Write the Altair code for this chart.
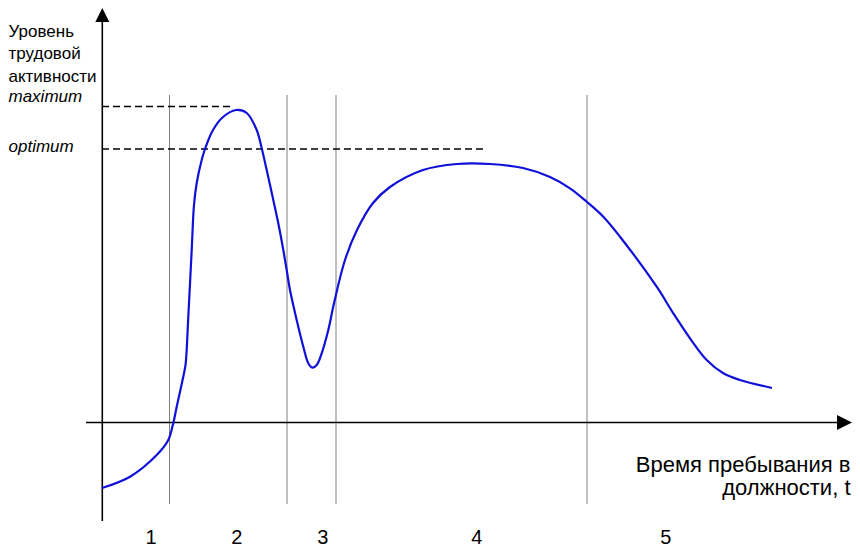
import altair as alt
import pandas as pd

# ---- data (t = time units, level = activity units) ----
curve_t = [0.0, 2.8, 5.47, 6.63, 7.13, 7.47, 8.2, 8.37, 8.63, 8.97, 9.2, 9.47, 9.97, 10.3,
           11.1, 12.1, 13.4, 14.47, 15.47, 15.97, 16.47, 17.13, 17.63, 18.13, 18.47, 18.8,
           19.47, 20.13, 20.63, 21.03, 21.47, 21.97, 22.63, 23.2, 24.3, 25.5, 27.1,
           28.8, 32.1, 35.5, 38.8, 42.1, 44.8, 46.8, 48.5, 50.13, 51.8, 55.47, 57.13,
           58.8, 60.47, 62.13, 63.8, 67.0]
curve_level = [-6.6, -5.47, -3.3, -1.8, -0.1, 1.53, 4.87, 5.87, 10.53, 17.2, 21.7, 23.9,
               26.2, 27.3, 29.2, 30.5, 31.2, 30.9, 29.2, 27.37, 25.2, 22.2, 19.87, 17.2,
               15.2, 13.2, 10.2, 7.53, 5.87, 5.43, 5.7, 6.87, 9.2, 11.87, 16.2, 19.2,
               21.9, 23.5, 25.2, 25.8, 25.8, 25.4, 24.5, 23.37, 22.0, 20.53, 18.53,
               13.53, 10.87, 8.37, 6.2, 4.87, 4.2, 3.4]

divider_t = [6.75, 18.5, 23.4, 48.5]
divider_top = 32.7
divider_bottom = -8.2

stage_labels = ["1", "2", "3", "4", "5"]
stage_t = [4.9, 13.47, 22.07, 37.47, 56.37]
stage_level = -11.6

ref_names = ["maximum", "optimum"]
ref_levels = [31.55, 27.3]
ref_ends = [13.2, 38.5]
ref_label_levels = [32.0, 27.0]

y_title_lines = ["Уровень", "трудовой", "активности"]
y_title_levels = [38.5, 36.3, 34.0]

x_title_lines = ["Время пребывания в", "должности, t"]
x_title_t = [74.85, 74.85]
x_title_levels = [-4.97, -7.3]

# ---- scales ----
W, H = 844, 542
xs = alt.Scale(domain=[-9.4, -9.4 + W / 10], nice=False, zero=False)
ys = alt.Scale(domain=[41.4 - H / 10, 41.4], nice=False, zero=False)
FONT = "Liberation Sans"

curve_df = pd.DataFrame({"t": curve_t, "level": curve_level})
div_df = pd.DataFrame({"t": divider_t, "y1": [divider_bottom] * len(divider_t),
                       "y2": [divider_top] * len(divider_t)})
ref_df = pd.DataFrame({"t1": [0.0] * 2, "t2": ref_ends, "level": ref_levels})
axes_df = pd.DataFrame({"x1": [-1.6, 0.03], "x2": [73.8, 0.03],
                        "y1": [-0.05, -9.9], "y2": [-0.05, 40.0]})
stage_df = pd.DataFrame({"t": stage_t, "label": stage_labels,
                         "level": [stage_level] * len(stage_t)})
ytitle_df = pd.DataFrame({"t": [-9.35] * 3, "level": y_title_levels, "label": y_title_lines})
refl_df = pd.DataFrame({"t": [-9.35] * 2, "level": ref_label_levels, "label": ref_names})
xtitle_df = pd.DataFrame({"t": x_title_t, "level": x_title_levels, "label": x_title_lines})

dividers = alt.Chart(div_df).mark_rule(color="#808080", strokeWidth=1).encode(
    x=alt.X("t:Q", scale=xs, axis=None),
    y=alt.Y("y1:Q", scale=ys, axis=None), y2="y2:Q")

refs = alt.Chart(ref_df).mark_rule(color="black", strokeWidth=1.3, strokeDash=[7, 4]).encode(
    x=alt.X("t1:Q", scale=xs, axis=None), x2="t2:Q",
    y=alt.Y("level:Q", scale=ys, axis=None))

axes = alt.Chart(axes_df).mark_rule(color="black", strokeWidth=1.6).encode(
    x=alt.X("x1:Q", scale=xs, axis=None), x2="x2:Q",
    y=alt.Y("y1:Q", scale=ys, axis=None), y2="y2:Q")

arrow_df = pd.DataFrame({"t": [74.25, 0.03], "level": [-0.05, 40.7],
                         "kind": ["right", "up"]})
arrow_right = alt.Chart(arrow_df).transform_filter(alt.datum.kind == "right").mark_point(
    shape="M1,0L-1,-1L-1,1Z", size=225, filled=True, color="black", opacity=1).encode(
    x=alt.X("t:Q", scale=xs, axis=None), y=alt.Y("level:Q", scale=ys, axis=None))
arrow_up = alt.Chart(arrow_df).transform_filter(alt.datum.kind == "up").mark_point(
    shape="M0,-1L-1,1L1,1Z", size=196, filled=True, color="black", opacity=1).encode(
    x=alt.X("t:Q", scale=xs, axis=None), y=alt.Y("level:Q", scale=ys, axis=None))

curve = alt.Chart(curve_df).mark_line(color="#1010d8", strokeWidth=2.2,
                                      interpolate="catmull-rom").encode(
    x=alt.X("t:Q", scale=xs, axis=None), y=alt.Y("level:Q", scale=ys, axis=None))

stages = alt.Chart(stage_df).mark_text(font=FONT, fontSize=20, color="black",
                                       align="center", baseline="middle").encode(
    x=alt.X("t:Q", scale=xs, axis=None), y=alt.Y("level:Q", scale=ys, axis=None),
    text="label:N")

ytitle = alt.Chart(ytitle_df).mark_text(font=FONT, fontSize=17, color="black",
                                        align="left", baseline="alphabetic").encode(
    x=alt.X("t:Q", scale=xs, axis=None), y=alt.Y("level:Q", scale=ys, axis=None),
    text="label:N")

refl = alt.Chart(refl_df).mark_text(font=FONT, fontSize=17, fontStyle="italic",
                                    color="black", align="left",
                                    baseline="alphabetic").encode(
    x=alt.X("t:Q", scale=xs, axis=None), y=alt.Y("level:Q", scale=ys, axis=None),
    text="label:N")

xtitle = alt.Chart(xtitle_df).mark_text(font=FONT, fontSize=22, color="black",
                                        align="right", baseline="alphabetic").encode(
    x=alt.X("t:Q", scale=xs, axis=None), y=alt.Y("level:Q", scale=ys, axis=None),
    text="label:N")

chart = alt.layer(dividers, refs, axes, arrow_right, arrow_up, curve, stages, ytitle,
                  refl, xtitle).properties(
    width=W, height=H, padding=0,
    autosize=alt.AutoSizeParams(type="none")
).configure_view(stroke=None)

chart.save("out.html", embed_options={"renderer": "svg", "actions": False})
